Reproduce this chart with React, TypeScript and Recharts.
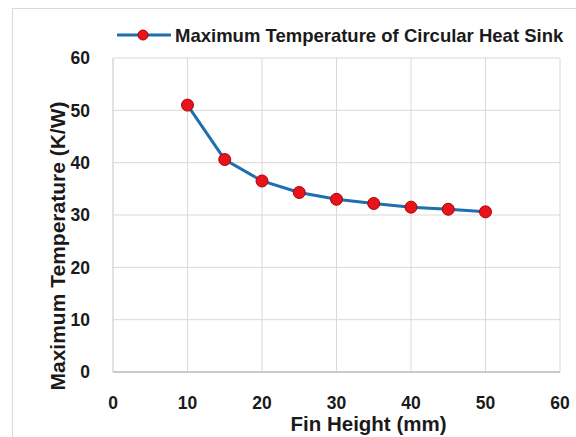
import React from 'react';
import { LineChart, Line, XAxis, YAxis, CartesianGrid, Legend } from 'recharts';

const finHeights = [10, 15, 20, 25, 30, 35, 40, 45, 50];
const maxTemps = [51, 40.6, 36.5, 34.3, 33, 32.2, 31.5, 31.1, 30.6];
const xTicks = [0, 10, 20, 30, 40, 50, 60];
const yTicks = [0, 10, 20, 30, 40, 50, 60];
const seriesName = 'Maximum Temperature of Circular Heat Sink';

const data = finHeights.map((h, i) => ({ h, t: maxTemps[i] }));

const FONT = 'Liberation Sans, Arial, sans-serif';
const BLUE = '#1f6fb0';
const RED = '#e8141c';
const INK = '#1a1a1a';

const renderLegend = () => (
  <svg width={576} height={24} style={{ display: 'block' }}>
    <line x1={117} y1={12} x2={171} y2={12} stroke={BLUE} strokeWidth={3} />
    <circle cx={143} cy={12} r={5} fill={RED} stroke="#b00000" strokeWidth={1} />
    <text x={175} y={12} dominantBaseline="central" fontFamily={FONT} fontSize={18.5} fontWeight="bold" fill={INK}>
      {seriesName}
    </text>
  </svg>
);

const YTitle = (props: any) => {
  const { viewBox } = props;
  const x = viewBox.x + 57;
  const y = viewBox.y + viewBox.height / 2 + 31;
  return (
    <text x={x} y={y} transform={`rotate(-90, ${x}, ${y})`} textAnchor="middle" dominantBaseline="central"
      fontFamily={FONT} fontSize={21} fontWeight="bold" fill={INK}>
      Maximum Temperature (K/W)
    </text>
  );
};

const XTitle = (props: any) => {
  const { viewBox } = props;
  const x = viewBox.x + viewBox.width / 2 + 32;
  const y = viewBox.y + 51;
  return (
    <text x={x} y={y} textAnchor="middle" dominantBaseline="central"
      fontFamily={FONT} fontSize={20.5} fontWeight="bold" fill={INK}>
      Fin Height (mm)
    </text>
  );
};

export default function App() {
  const tickStyle = { fontFamily: FONT, fontSize: 17.5, fontWeight: 'bold', fill: INK };
  return (
    <div style={{ position: 'absolute', left: 0, top: 0, width: 576, height: 437, background: '#fff', overflow: 'hidden' }}>
      <div style={{ position: 'absolute', left: 12, top: 8, width: 570, height: 440, border: '1px solid #d9d9d9' }} />
      <div style={{ position: 'absolute', left: 0, top: 0 }}>
        <LineChart width={576} height={437} data={data} margin={{ top: 34, right: 16, bottom: 0, left: 0 }}>
          <CartesianGrid stroke="#d9d9d9" strokeWidth={1} />
          <XAxis
            dataKey="h"
            type="number"
            domain={[0, 60]}
            ticks={xTicks}
            interval={0}
            height={65}
            tickLine={false}
            tickSize={0}
            tickMargin={25}
            axisLine={{ stroke: '#bfbfbf', strokeWidth: 1.5 }}
            tick={tickStyle}
            label={<XTitle />}
          />
          <YAxis
            type="number"
            domain={[0, 60]}
            ticks={yTicks}
            interval={0}
            width={113}
            tickLine={false}
            tickSize={0}
            tickMargin={23}
            axisLine={{ stroke: '#d9d9d9' }}
            tick={tickStyle}
            label={<YTitle />}
          />
          <Legend verticalAlign="top" content={renderLegend} wrapperStyle={{ top: 23, left: 0 }} />
          <Line
            dataKey="t"
            name={seriesName}
            stroke={BLUE}
            strokeWidth={3}
            dot={{ r: 6, fill: RED, stroke: '#b00000', strokeWidth: 1 }}
            isAnimationActive={false}
          />
        </LineChart>
      </div>
    </div>
  );
}
